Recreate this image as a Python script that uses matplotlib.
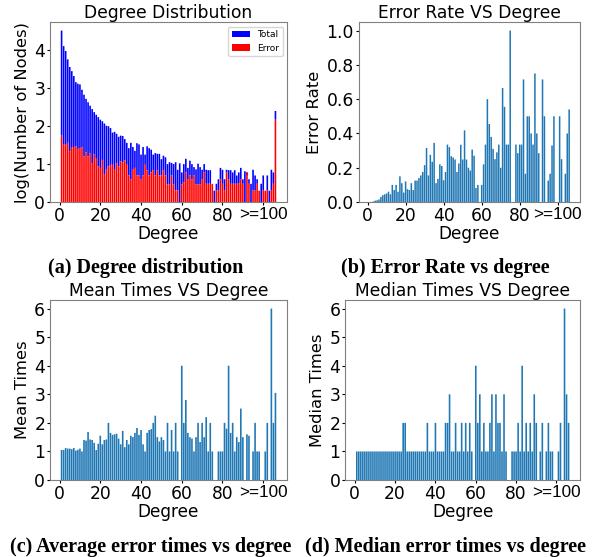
import numpy as np
import matplotlib
matplotlib.use("Agg")
import matplotlib.pyplot as plt

# 106 degree bins, the last one holds every node with degree >= 100
degrees = list(range(1, 107))

log_total = [
    4.52, 4.11, 3.98, 3.76, 3.56, 3.45, 3.32, 3.16, 3.12,
    3.10, 2.96, 2.83, 2.72, 2.63, 2.54, 2.45, 2.37, 2.30, 2.24,
    2.17, 2.13, 2.07, 2.01, 2.00, 1.95, 1.83, 1.85,
    1.80, 1.72, 1.75, 1.74, 1.66, 1.56, 1.42, 1.56, 1.45, 1.35,
    1.55, 1.52, 1.25, 1.45, 1.25, 1.47, 1.42, 1.38,
    1.25, 1.29, 1.27, 1.27, 1.13, 1.22, 1.18, 1.00, 1.05, 1.03,
    1.00, 1.05, 0.85, 1.02, 0.78, 1.00, 1.14, 0.90, 1.09, 1.00,
    0.92, 0.86, 1.01, 0.92, 0.85, 1.00, 0.85, 0.84, 0.84, 0.48,
    0.30, 0.48, 0.60, 0.90, 0.85,
    0.60, 0.85, 0.84, 0.84, 0.78, 0.84, 0.70, 0.78, 0.90, 0.60,
    0.81, 0.70, 0.60, 0.48, 0.85, 0.70, 0.60,
    0.30, 0.48, 0.70, 0.30, 0.70, 0.30, 0.85, 0.78, 2.40,
]
log_error = [
    1.75, 1.51, 1.51, 1.56, 1.34, 1.45, 1.45, 1.47, 1.40,
    1.42, 1.44, 1.20, 1.31, 1.20, 1.29, 1.03, 1.25, 1.16, 0.94,
    0.90, 1.11, 0.72, 0.85, 0.94, 0.98, 0.98, 0.85,
    1.02, 0.94, 1.07, 1.05, 1.10, 0.98, 0.70, 0.59, 0.85, 0.90,
    0.70, 0.70, 0.59, 0.70, 0.98, 0.84, 0.70, 0.78,
    0.84, 0.70, 0.84, 0.70, 0.70, 0.84, 0.70, 0.46, 0.46, 0.70,
    0.46, 0.31, 0.31, 0.00, 0.46, 0.52, 0.78, 0.59, 0.70, 0.59,
    0.70, 0.46, 0.46, 0.46, 0.59, 0.78, 0.48, 0.48, 0.48, 0.48,
    0.00, 0.30, 0.30, 0.60, 0.48,
    0.30, 0.78, 0.60, 0.48, 0.48, 0.48, 0.48, 0.50, 0.60, 0.48,
    0.00, 0.78, 0.48, 0.00, 0.30, 0.30, 0.48,
    0.30, 0.00, 0.30, 0.30, 0.30, 0.00, 0.30, 0.48, 2.17,
]
error_rate = [
    0.0, 0.0, 0.003, 0.008, 0.01, 0.015, 0.03, 0.04, 0.045,
    0.05, 0.06, 0.045, 0.10, 0.07, 0.10, 0.06, 0.15, 0.11, 0.055,
    0.12, 0.075, 0.07, 0.11, 0.07, 0.125, 0.125, 0.14,
    0.155, 0.175, 0.215, 0.315, 0.155, 0.275, 0.235, 0.345, 0.11, 0.135,
    0.22, 0.21, 0.127, 0.175, 0.335, 0.32, 0.267, 0.26,
    0.248, 0.175, 0.225, 0.334, 0.248, 0.418, 0.248, 0.20, 0.184, 0.306,
    0.27, 0.082, 0.10, 0.0, 0.10, 0.22, 0.335, 0.60, 0.455, 0.38,
    0.31, 0.25, 0.29, 0.335, 0.20, 0.665, 0.555, 0.335, 0.335, 1.0,
    0.0, 0.0, 0.335, 0.285, 0.335,
    0.335, 0.715, 0.165, 0.50, 0.50, 0.40, 0.335, 0.75, 0.40, 0.285,
    0.0, 0.715, 0.50, 0.0, 0.125, 0.165, 0.33,
    0.50, 0.0, 0.0, 0.50, 0.25, 0.0, 0.165, 0.40, 0.54,
]
mean_times = [
    1.05, 1.05, 1.12, 1.10, 1.10, 1.08, 1.12, 1.03, 1.06,
    1.10, 1.00, 1.40, 1.38, 1.68, 1.42, 1.40, 1.30, 1.05, 1.27,
    1.55, 1.25, 1.40, 1.42, 2.00, 1.65, 1.58, 1.60,
    1.62, 1.45, 1.25, 1.72, 1.15, 1.40, 1.25, 1.55, 1.50, 1.65,
    1.82, 1.58, 1.75, 1.25, 1.00, 1.65, 1.75, 1.78,
    2.00, 2.25, 1.50, 1.35, 1.50, 1.40, 1.00, 2.00, 1.00, 1.75,
    1.00, 2.00, 1.00, 0.00, 4.00, 2.00, 2.80, 1.65, 1.50, 1.45,
    1.00, 1.50, 2.00, 1.33, 2.00, 1.50, 2.20, 1.00, 2.00, 1.00,
    0.00, 0.00, 1.00, 1.00, 1.00,
    2.00, 1.80, 4.00, 1.65, 2.00, 1.00, 1.50, 1.33, 2.50, 1.50,
    0.00, 1.60, 1.55, 0.00, 1.00, 2.00, 1.00,
    1.00, 0.00, 0.00, 1.00, 2.00, 0.00, 6.00, 2.00, 3.05,
]
median_times = [
    1, 1, 1, 1, 1, 1, 1, 1, 1,
    1, 1, 1, 1, 1, 1, 1, 1, 1, 1,
    1, 1, 1, 1, 2, 2, 1, 1,
    1, 1, 1, 1, 1, 1, 1, 1, 2, 1,
    1, 1, 2, 1, 1, 1, 1, 2,
    2, 3, 1, 1, 2, 1, 1, 2, 1, 2,
    1, 2, 1, 0, 4, 2, 3, 1, 2, 1,
    1, 2, 3, 1, 3, 2, 2, 1, 3, 1,
    0, 0, 1, 1, 1,
    2, 1, 4, 1, 2, 1, 2, 1, 3, 2,
    0, 1, 2, 0, 1, 2, 1,
    1, 0, 0, 1, 2, 0, 6, 3, 2,
]

xtick_pos = [0, 20, 40, 60, 80, 100]
xtick_labels = ['0', '20', '40', '60', '80', '>=100']

plt.rcParams['font.size'] = 12.2
plt.rcParams['axes.edgecolor'] = '#808080'

fig = plt.figure(figsize=(5.96, 5.57), dpi=100)

ax_a = fig.add_axes([0.0839, 0.6373, 0.3977, 0.3232])
ax_b = fig.add_axes([0.6018, 0.6373, 0.3713, 0.3232])
ax_c = fig.add_axes([0.0839, 0.1382, 0.3977, 0.3232])
ax_d = fig.add_axes([0.5794, 0.1382, 0.3938, 0.3232])

# blue part sits on top of the red part so the two never overlap
total_rest = np.array(log_total) - np.array(log_error)
ax_a.bar(degrees, total_rest, bottom=log_error, color='blue', label='Total', snap=False)
ax_a.bar(degrees, log_error, color='red', label='Error', snap=False)
ax_a.legend(loc='upper right', fontsize=6.5)
ax_a.set_title('Degree Distribution', fontsize=12.3, pad=2)
ax_a.set_ylabel('log(Number of Nodes)', fontsize=11.8, labelpad=3)
ax_a.set_yticks([0, 1, 2, 3, 4])

ax_b.bar(degrees, error_rate, color='C0', snap=False)
ax_b.set_title('Error Rate VS Degree', fontsize=12.3, pad=2)
ax_b.set_ylabel('Error Rate', fontsize=11.8, labelpad=3)
ax_b.set_yticks([0.0, 0.2, 0.4, 0.6, 0.8, 1.0])

ax_c.bar(degrees, mean_times, color='C0', snap=False)
ax_c.set_title('Mean Times VS Degree', fontsize=12.3, pad=2)
ax_c.set_ylabel('Mean Times', fontsize=11.8, labelpad=3)
ax_c.set_yticks(range(0, 7))

ax_d.bar(degrees, median_times, color='C0', snap=False)
ax_d.set_title('Median Times VS Degree', fontsize=12.3, pad=2)
ax_d.set_ylabel('Median Times', fontsize=11.8, labelpad=3)
ax_d.set_yticks(range(0, 7))

for ax in [ax_a, ax_b, ax_c, ax_d]:
    ax.set_xticks(xtick_pos)
    ax.set_xticklabels(xtick_labels)
    ax.get_xticklabels()[-1].set_fontfamily('Liberation Sans')
    ax.set_xlabel('Degree', labelpad=0)
    ax.tick_params(labelsize=12.3, length=2.5, pad=1)

cap_font = dict(family='Liberation Serif', fontweight='bold', fontsize=14.5, ha='center', va='center')
fig.text(0.245, 0.519, '(a) Degree distribution', **cap_font)
fig.text(0.748, 0.519, '(b) Error Rate vs degree', **cap_font)
fig.text(0.252, 0.018, '(c) Average error times vs degree', **cap_font)
fig.text(0.748, 0.018, '(d) Median error times vs degree', **cap_font)

fig.savefig('out.png', dpi=100)
